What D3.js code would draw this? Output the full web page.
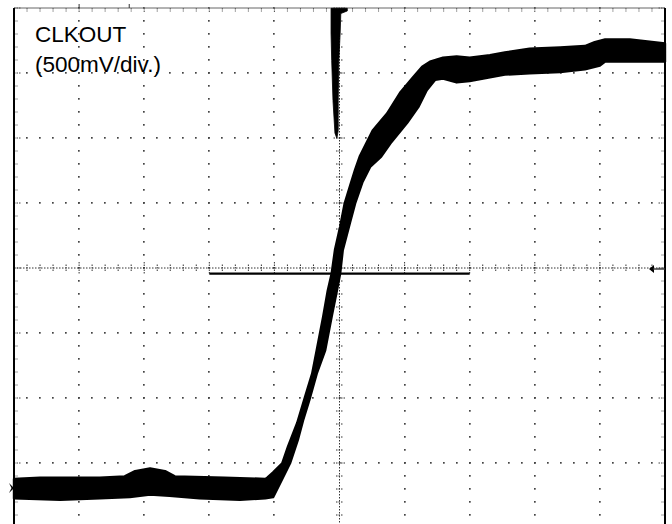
<!DOCTYPE html>
<html>
<head>
<meta charset="utf-8">
<script src="https://cdn.jsdelivr.net/npm/d3@7"></script>
<style>
  html, body { margin: 0; padding: 0; background: #fff; }
  svg { display: block; }
</style>
</head>
<body>
<svg id="chart" width="672" height="524"></svg>
<script>
// ---- Data (time in divisions from centre, voltage in volts) ----
const labelLines = ["CLKOUT", "(500mV/div.)"];
const VOLTS_PER_DIV = 0.5;
const GROUND_DIV = -3.385;          // ground marker, divisions from centre
const xDivs = d3.range(-5, 5.001, 1);
const yDivs = d3.range(-4, 4.001, 1);

// Upper (top / left) envelope of the persisted trace
const upperT = [-5.00,-4.60,-3.99,-3.68,-3.30,-3.14,-2.91,-2.68,-2.53,-1.77,-1.14,-1.11,-1.02,-0.88,-0.79,-0.65,-0.53,-0.42,-0.35,-0.25,-0.18,-0.12,-0.07,0.01,0.08,0.16,0.24,0.31,0.51,0.73,0.93,1.13,1.27,1.39,1.59,1.80,2.00,2.31,2.54,2.92,3.39,3.77,3.92,4.08,4.46,5.00];
const upperV = [0.07,0.08,0.08,0.08,0.09,0.13,0.15,0.13,0.09,0.08,0.07,0.08,0.12,0.19,0.32,0.50,0.70,0.88,1.06,1.32,1.52,1.65,1.83,2.01,2.19,2.32,2.45,2.55,2.75,2.88,3.04,3.16,3.24,3.28,3.31,3.32,3.31,3.33,3.35,3.38,3.39,3.40,3.43,3.45,3.45,3.42];
// Lower (bottom / right) envelope
const lowerT = [-5.00,-4.29,-3.68,-3.22,-2.91,-2.61,-2.15,-1.53,-1.14,-1.02,-0.87,-0.76,-0.64,-0.56,-0.45,-0.35,-0.22,-0.12,-0.04,0.01,0.05,0.16,0.24,0.35,0.47,0.64,0.78,1.04,1.21,1.34,1.47,1.59,1.80,2.00,2.31,2.54,2.92,3.39,3.77,4.00,4.08,4.46,5.00];
const lowerV = [-0.08,-0.09,-0.08,-0.07,-0.05,-0.06,-0.08,-0.09,-0.08,-0.07,0.08,0.19,0.37,0.52,0.70,0.88,1.06,1.32,1.52,1.65,1.83,2.04,2.19,2.35,2.47,2.55,2.65,2.81,2.93,3.06,3.14,3.15,3.12,3.13,3.16,3.18,3.19,3.20,3.22,3.25,3.28,3.28,3.28];
// Narrow glitch trace coming down from the top
const spikeT = [-0.13,0.12,0.12,0.02,0.01,-0.01,-0.02,-0.02,-0.04,-0.07,-0.10,-0.12,-0.13];
const spikeV = [3.69,3.69,3.67,3.65,3.50,3.29,2.98,2.75,2.69,2.73,2.98,3.29,3.50];
const triggerLevel = 1.65;
const triggerSpan = [-2, 2];

// ---- Scales ----
const svg = d3.select("#chart");
const W = 672, H = 524;
svg.append("rect").attr("width", W).attr("height", H).attr("fill", "#fff");

const x = d3.scaleLinear().domain([-5, 5]).range([14, 665]);
const yDiv = d3.scaleLinear().domain([-4, 4]).range([528, 8]);
const y = d3.scaleLinear()
  .domain([(-4 - GROUND_DIV) * VOLTS_PER_DIV, (4 - GROUND_DIV) * VOLTS_PER_DIV])
  .range([528, 8]);

const grid = svg.append("g");
const dotCol = "#444";
const minorX = d3.range(-5, 5.001, 0.2).map(v => +v.toFixed(2));
const minorY = d3.range(-4, 4.001, 0.2).map(v => +v.toFixed(2));

// dotted major grid lines
xDivs.filter(d => d !== 0 && Math.abs(d) !== 5).forEach(d => {
  grid.selectAll(null).data(minorY).enter().append("rect")
    .attr("x", Math.round(x(d)) - 1).attr("y", v => Math.round(yDiv(v)) - 1)
    .attr("width", 1.7).attr("height", 1.7).attr("fill", dotCol);
});
yDivs.filter(d => d !== 0 && Math.abs(d) !== 4).forEach(d => {
  grid.selectAll(null).data(minorX).enter().append("rect")
    .attr("x", v => Math.round(x(v)) - 1).attr("y", Math.round(yDiv(d)) - 1)
    .attr("width", 1.7).attr("height", 1.7).attr("fill", dotCol);
});

// centre axes: fine dotted line with cross ticks
grid.append("line").attr("x1", x(-5)).attr("x2", x(5))
  .attr("y1", yDiv(0)).attr("y2", yDiv(0))
  .attr("stroke", "#333").attr("stroke-width", 1).attr("stroke-dasharray", "1.5,1.5");
grid.append("line").attr("x1", x(0)).attr("x2", x(0))
  .attr("y1", yDiv(4)).attr("y2", yDiv(-4))
  .attr("stroke", "#333").attr("stroke-width", 1).attr("stroke-dasharray", "1.5,1.5");
grid.selectAll(null).data(minorX).enter().append("line")
  .attr("x1", v => x(v)).attr("x2", v => x(v))
  .attr("y1", v => yDiv(0) - (Number.isInteger(v) ? 6 : 3.5))
  .attr("y2", v => yDiv(0) + (Number.isInteger(v) ? 6 : 3.5))
  .attr("stroke", "#333").attr("stroke-width", 1).attr("stroke-dasharray", "1.5,1");
grid.selectAll(null).data(minorY).enter().append("line")
  .attr("y1", v => yDiv(v)).attr("y2", v => yDiv(v))
  .attr("x1", v => x(0) - (Number.isInteger(v) ? 6 : 3.5))
  .attr("x2", v => x(0) + (Number.isInteger(v) ? 6 : 3.5))
  .attr("stroke", "#333").attr("stroke-width", 1).attr("stroke-dasharray", "1.5,1");

// border ticks
grid.selectAll(null).data(minorY).enter().append("line")
  .attr("x1", x(-5)).attr("x2", v => x(-5) + (Number.isInteger(v) ? 7 : 3.5))
  .attr("y1", v => yDiv(v)).attr("y2", v => yDiv(v))
  .attr("stroke", "#444").attr("stroke-width", 1).attr("stroke-dasharray", "1.5,1");
grid.selectAll(null).data(minorY).enter().append("line")
  .attr("x1", x(5)).attr("x2", v => x(5) - (Number.isInteger(v) ? 7 : 3.5))
  .attr("y1", v => yDiv(v)).attr("y2", v => yDiv(v))
  .attr("stroke", "#444").attr("stroke-width", 1).attr("stroke-dasharray", "1.5,1");
grid.selectAll(null).data(minorX).enter().append("line")
  .attr("y1", yDiv(4)).attr("y2", v => yDiv(4) + (Number.isInteger(v) ? 5 : 3.5))
  .attr("x1", v => x(v)).attr("x2", v => x(v))
  .attr("stroke", "#444").attr("stroke-width", 1).attr("stroke-dasharray", "1.5,1");

// frame
grid.append("line").attr("x1", x(-5)).attr("x2", x(5)).attr("y1", yDiv(4)).attr("y2", yDiv(4))
  .attr("stroke", "#666").attr("stroke-width", 1);
grid.append("line").attr("x1", x(-5)).attr("x2", x(-5)).attr("y1", yDiv(4)).attr("y2", H)
  .attr("stroke", "#000").attr("stroke-width", 2);
grid.append("line").attr("x1", x(5)).attr("x2", x(5)).attr("y1", yDiv(4)).attr("y2", H)
  .attr("stroke", "#000").attr("stroke-width", 2);
// small position marks above the frame
[-4, -3.23].forEach(t => {
  grid.append("line").attr("x1", x(t)).attr("x2", x(t)).attr("y1", yDiv(4) - 4).attr("y2", yDiv(4))
    .attr("stroke", "#333").attr("stroke-width", 1);
});

// ---- Trace ----
const upper = upperT.map((t, i) => [t, upperV[i]]);
const lower = lowerT.map((t, i) => [t, lowerV[i]]);
const band = upper.concat(lower.slice().reverse());
const poly = d3.line().x(d => x(d[0])).y(d => y(d[1])).curve(d3.curveLinearClosed);
svg.append("path").attr("d", poly(band)).attr("fill", "#000")
  .attr("stroke", "#000").attr("stroke-width", 2.4).attr("stroke-linejoin", "round");
const spike = spikeT.map((t, i) => [t, spikeV[i]]);
svg.append("path").attr("d", poly(spike)).attr("fill", "#000").attr("stroke", "#000").attr("stroke-width", 0.8);

// trigger level line
svg.append("line").attr("x1", x(triggerSpan[0])).attr("x2", x(triggerSpan[1]))
  .attr("y1", y(triggerLevel)).attr("y2", y(triggerLevel))
  .attr("stroke", "#000").attr("stroke-width", 2.2);

// trigger level marker (right) and ground marker (left)
const ty = yDiv(0) + 1;
svg.append("path")
  .attr("d", `M${x(5) - 16},${ty} L${x(5) - 11},${ty - 4} L${x(5) - 11},${ty + 4} Z`)
  .attr("fill", "#000");
svg.append("line").attr("x1", x(5) - 12).attr("x2", x(5)).attr("y1", ty).attr("y2", ty)
  .attr("stroke", "#333").attr("stroke-width", 1.4);
const gy = y(0);
svg.append("path")
  .attr("d", `M${x(-5) - 5},${gy - 5} L${x(-5)},${gy} L${x(-5) - 5},${gy + 5} L${x(-5) - 2.5},${gy} Z`)
  .attr("fill", "#000");

// ---- Label ----
const lbl = svg.append("text")
  .attr("x", 35).attr("y", 42)
  .attr("font-family", "'Liberation Sans', Arial, Helvetica, sans-serif")
  .attr("font-size", 22.5).attr("fill", "#000");
lbl.selectAll("tspan").data(labelLines).enter().append("tspan")
  .attr("x", 35).attr("dy", (d, i) => i === 0 ? 0 : 30).text(d => d);
</script>
</body>
</html>
